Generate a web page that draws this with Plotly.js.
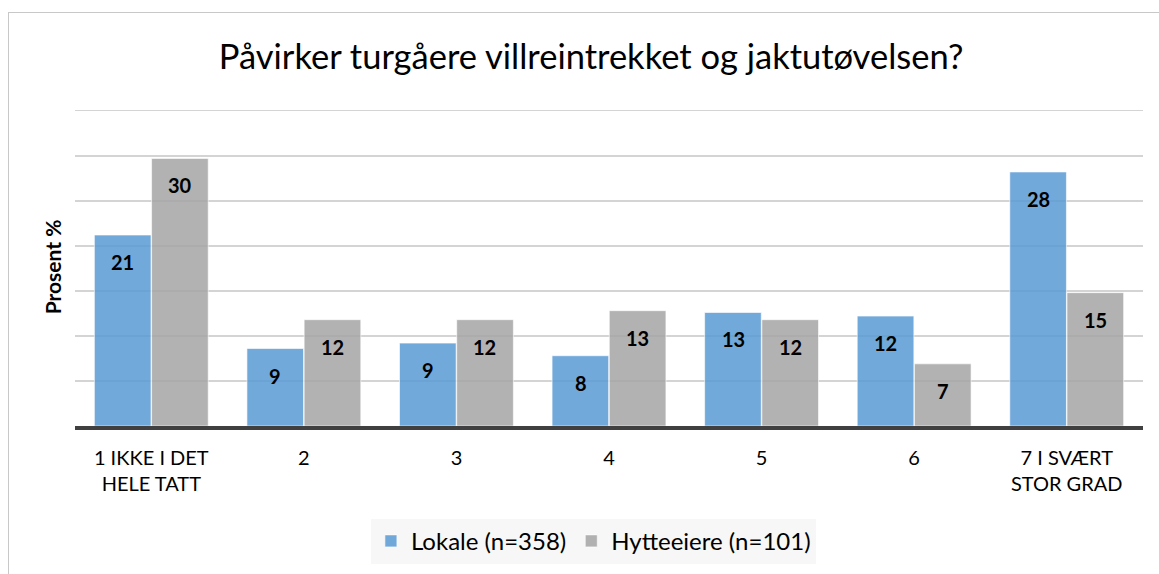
<!DOCTYPE html>
<html>
<head>
<meta charset="utf-8">
<script src="https://cdn.plot.ly/plotly-3.0.1.min.js"></script>
<style>
html,body{margin:0;padding:0;background:#fff;}
#wrap{position:relative;width:1159px;height:574px;overflow:hidden;}
#chart{position:absolute;left:0;top:0;width:1159px;height:574px;}
#frame{position:absolute;left:8px;top:12px;width:1200px;height:600px;border:1px solid #c8c8c8;pointer-events:none;}
</style>
</head>
<body>
<div id="wrap"><div id="chart"></div><div id="frame"></div></div>
<script>
const categories = ["1 IKKE I DET<br>HELE TATT", "2", "3", "4", "5", "6", "7 I SVÆRT<br>STOR GRAD"];
const lokale = [21.2, 8.6, 9.2, 7.8, 12.6, 12.2, 28.2];
const hytteeiere = [29.7, 11.8, 11.8, 12.8, 11.8, 6.9, 14.8];
const seriesNames = ["Lokale (n=358)", "Hytteeiere (n=101)"];
const titleText = "Påvirker turgåere villreintrekket og jaktutøvelsen?";
const yTitle = "Prosent %";

const FONT = "Lato, 'Open Sans', sans-serif";
const colors = ["rgba(91,155,213,0.86)", "rgba(165,165,165,0.86)"];

const traces = [lokale, hytteeiere].map((vals, i) => ({
  type: "bar",
  name: seriesNames[i],
  x: categories,
  y: vals,
  marker: {color: colors[i], line: {color: "rgba(255,255,255,0.6)", width: 1}},
  hoverinfo: "skip"
}));

const annotations = [];
[lokale, hytteeiere].forEach((vals, s) => {
  vals.forEach((v, i) => {
    annotations.push({
      x: i, y: v, xref: "x", yref: "y",
      text: String(Math.round(v)),
      showarrow: false,
      xshift: s === 0 ? -28.5 : 28.5,
      yshift: -27,
      yanchor: "middle",
      font: {family: FONT, size: 20, color: "#000", weight: "bold"}
    });
  });
});

const layout = {
  width: 1159, height: 574,
  paper_bgcolor: "rgba(0,0,0,0)",
  plot_bgcolor: "rgba(0,0,0,0)",
  margin: {l: 75, r: 16, t: 108, b: 148},
  barmode: "group",
  bargap: 0.25,
  bargroupgap: 0.01,
  title: {text: titleText, font: {family: FONT, size: 34.5, color: "#000"}, x: 0.51, xref: "container", xanchor: "center", y: 0.9, yref: "container", yanchor: "middle"},
  xaxis: {
    type: "category",
    showgrid: false, ticks: "", showline: true, linecolor: "#404040", linewidth: 4,
    tickfont: {family: FONT, size: 20, color: "#000"}, automargin: false,
    ticklabelstandoff: 11
  },
  yaxis: {
    range: [0, 35.3], tick0: 0, dtick: 5, showticklabels: false, ticks: "",
    showgrid: true, gridcolor: "#d4d4d4", gridwidth: 1.5,
    zeroline: false, showline: false, automargin: false,
    title: {text: yTitle, font: {family: FONT, size: 21, color: "#000", weight: "bold"}, standoff: 6}
  },
  showlegend: true,
  legend: {
    orientation: "h", x: 0.512, xref: "container", xanchor: "center",
    y: 0.057, yref: "container", yanchor: "middle",
    bgcolor: "#f7f7f7", font: {family: FONT, size: 24, color: "#000"},
    itemwidth: 30, tracegroupgap: 0
  },
  annotations: annotations
};

Plotly.newPlot("chart", traces, layout, {staticPlot: true, displayModeBar: false});
</script>
</body>
</html>
